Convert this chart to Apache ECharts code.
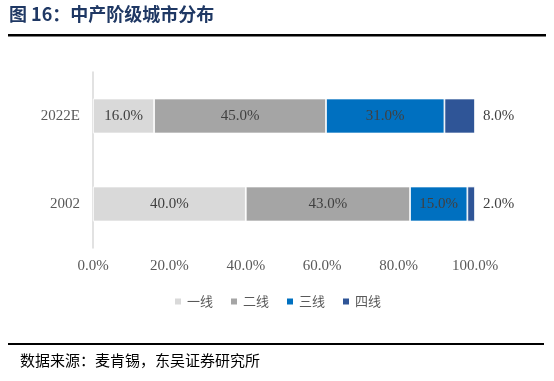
<!DOCTYPE html>
<html>
<head>
<meta charset="utf-8">
<script src="https://cdn.jsdelivr.net/npm/echarts@6/dist/echarts.min.js"></script>
<style>
  html, body { margin: 0; padding: 0; background: #fff; }
  #chart { width: 554px; height: 381px; }
</style>
</head>
<body>
<div id="chart"></div>
<script>
const categories = ['2002', '2022E'];
const seriesNames = ['一线', '二线', '三线', '四线'];
const tier1 = [40, 16];
const tier2 = [43, 45];
const tier3 = [15, 31];
const tier4 = [2, 8];
const xTicks = [0, 20, 40, 60, 80, 100];

const colors = ['#d9d9d9', '#a5a5a5', '#0070c0', '#2f5597'];
const serif = '"Liberation Serif", "DejaVu Serif", serif';
const cjk = '"Noto Sans CJK SC", sans-serif';

const chart = echarts.init(document.getElementById('chart'));

const pct = (p) => p.value.toFixed(1) + '%';

function bar(name, data, i, outside) {
  return {
    name: name,
    type: 'bar',
    stack: 'total',
    data: data,
    barWidth: 35,
    itemStyle: { color: colors[i], borderColor: '#fff', borderWidth: 0.8 },
    label: {
      show: true,
      position: outside ? 'right' : 'inside',
      distance: 8,
      formatter: pct,
      color: '#404040',
      fontFamily: serif,
      fontSize: 15
    }
  };
}

chart.setOption({
  animation: false,
  color: colors,
  grid: { left: 93, right: 79, top: 72, height: 176 },
  legend: {
    data: seriesNames,
    top: 290,
    left: 'center',
    icon: 'rect',
    itemWidth: 8,
    itemHeight: 8,
    itemGap: 16,
    textStyle: { color: '#595959', fontFamily: cjk, fontSize: 13 }
  },
  xAxis: {
    type: 'value',
    min: xTicks[0],
    max: xTicks[xTicks.length - 1],
    interval: 20,
    axisLine: { show: false },
    axisTick: { show: false },
    splitLine: { show: false },
    axisLabel: {
      color: '#595959',
      fontFamily: serif,
      fontSize: 15,
      margin: 11,
      formatter: (v) => v.toFixed(1) + '%'
    }
  },
  yAxis: {
    type: 'category',
    data: categories,
    axisLine: { show: true, lineStyle: { color: '#d9d9d9', width: 1.5 } },
    axisTick: { show: false },
    axisLabel: { color: '#595959', fontFamily: serif, fontSize: 15, margin: 13 }
  },
  series: [
    bar(seriesNames[0], tier1, 0, false),
    bar(seriesNames[1], tier2, 1, false),
    bar(seriesNames[2], tier3, 2, false),
    bar(seriesNames[3], tier4, 3, true)
  ],
  graphic: [
    {
      type: 'text', left: 9, top: 5,
      style: { text: '图 16：中产阶级城市分布', fill: '#1f3864', font: 'bold 18px ' + cjk }
    },
    {
      type: 'rect', shape: { x: 8, y: 34, width: 538, height: 2.5 },
      style: { fill: '#000' }
    },
    {
      type: 'rect', shape: { x: 8, y: 343, width: 536, height: 2 },
      style: { fill: '#000' }
    },
    {
      type: 'text', left: 20, top: 353,
      style: { text: '数据来源：麦肯锡，东吴证券研究所', fill: '#000', font: '15px ' + cjk }
    }
  ]
});
</script>
</body>
</html>
